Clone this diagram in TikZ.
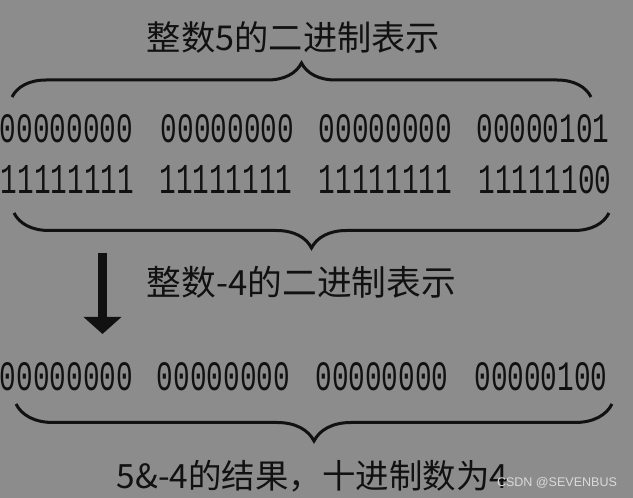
\documentclass[tikz,border=0pt]{standalone}
\usepackage{fontspec}
\usepackage{graphicx}
\setmainfont{Liberation Sans}
\newfontfamily\cjk{Noto Sans CJK SC}
\newfontfamily\digitfont{Liberation Mono}
\usetikzlibrary{decorations.pathreplacing,arrows.meta}
\definecolor{bg}{HTML}{8C8C8C}
\definecolor{ink}{HTML}{111111}
\definecolor{wmark}{HTML}{DADADA}
\newcommand\bitgroup[1]{\resizebox{133pt}{28pt}{\digitfont #1}}
\newcommand\fitw[2]{\resizebox{#1}{!}{#2}}
\tikzset{
  lbl/.style={inner sep=0pt, text=ink, font=\cjk},
  bitsnode/.style={inner sep=0pt, text=ink},
  bracestyle/.style={draw=ink, line width=3pt, decorate, decoration={brace, amplitude=#1}},
  bracemirror/.style={draw=ink, line width=3pt, decorate, decoration={brace, mirror, amplitude=#1}},
  downarrow/.style={draw=ink, line width=9pt, -{Triangle[width=37pt,length=17pt]}},
  wm/.style={inner sep=0pt, text=wmark}
}
\begin{document}
\begin{tikzpicture}[x=1pt,y=1pt]
\fill[bg] (0,0) rectangle (633,498);
\useasboundingbox (0,0) rectangle (633,498);
% title
\node[lbl] (title) at (293.5,461) {\fitw{293pt}{整数5的二进制表示}};
% top brace
\coordinate (b1l) at (12,401);
\coordinate (b1r) at (591,401);
\draw[bracestyle=34pt] (b1l) -- (b1r);
% row 1
\node[bitsnode] (r1a) at (66.5,369) {\bitgroup{00000000}};
\node[bitsnode] (r1b) at (227.5,369) {\bitgroup{00000000}};
\node[bitsnode] (r1c) at (385.5,369) {\bitgroup{00000000}};
\node[bitsnode] (r1d) at (543,369) {\bitgroup{00000101}};
% row 2
\node[bitsnode] (r2a) at (67.5,318) {\bitgroup{11111111}};
\node[bitsnode] (r2b) at (226,318) {\bitgroup{11111111}};
\node[bitsnode] (r2c) at (385.5,318) {\bitgroup{11111111}};
\node[bitsnode] (r2d) at (545,318) {\bitgroup{11111100}};
% middle brace
\coordinate (b2l) at (14,285);
\coordinate (b2r) at (609,285);
\draw[bracemirror=35pt] (b2l) -- (b2r);
% arrow
\coordinate (a1) at (102.5,245);
\coordinate (a2) at (102.5,164);
\draw[downarrow] (a1) -- (a2);
\node[lbl] (label2) at (301.5,216) {\fitw{309pt}{整数-4的二进制表示}};
% row 3
\node[bitsnode] (r3a) at (66.5,121) {\bitgroup{00000000}};
\node[bitsnode] (r3b) at (223.5,121) {\bitgroup{00000000}};
\node[bitsnode] (r3c) at (382,121) {\bitgroup{00000000}};
\node[bitsnode] (r3d) at (541,121) {\bitgroup{00000100}};
% bottom brace
\coordinate (b3l) at (16,94);
\coordinate (b3r) at (612,94);
\draw[bracemirror=37pt] (b3l) -- (b3r);
% result
\node[lbl] (result) at (312.5,22) {\fitw{391pt}{5\&-4的结果，十进制数为4}};
% watermark
\node[wm] (mark) at (557,15.5) {\fitw{120pt}{CSDN @SEVENBUS}};
\end{tikzpicture}
\end{document}
